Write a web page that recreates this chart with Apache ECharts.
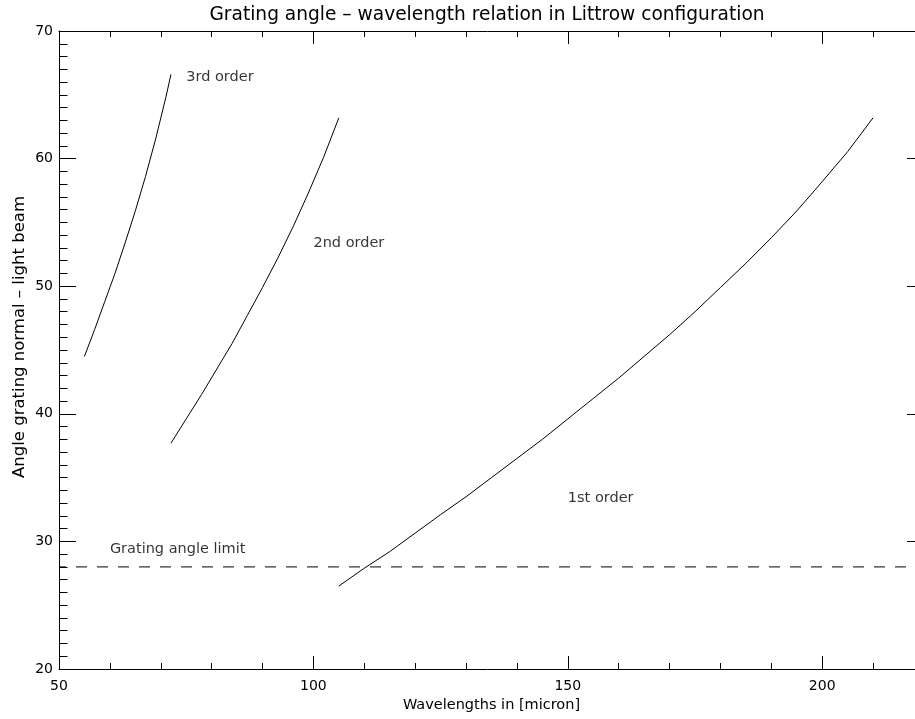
<!DOCTYPE html>
<html>
<head>
<meta charset="utf-8">
<script src="https://cdn.jsdelivr.net/npm/echarts@6/dist/echarts.min.js"></script>
<style>
  html, body { margin: 0; padding: 0; background: #fff; }
  #chart { width: 915px; height: 719px; }
</style>
</head>
<body>
<div id="chart"></div>
<script>
// Littrow grating: angle between grating normal and beam vs. wavelength, per order
const order1Wavelength = [105, 110, 115, 120, 125, 130, 135, 140, 145, 150, 155, 160, 165, 170, 175, 180, 185, 190, 195, 200, 205, 210];
const order1Angle      = [26.5, 27.9, 29.2, 30.65, 32.1, 33.5, 35.0, 36.5, 38.0, 39.6, 41.2, 42.8, 44.5, 46.2, 48.0, 49.9, 51.8, 53.8, 55.9, 58.2, 60.55, 63.2];

const order2Wavelength = [72, 75, 78, 81, 84, 87, 90, 93, 96, 99, 102, 105];
const order2Angle      = [37.7, 39.6, 41.5, 43.5, 45.5, 47.7, 49.9, 52.2, 54.65, 57.3, 60.1, 63.2];

const order3Wavelength = [55, 57, 59, 61, 63, 65, 67, 69, 71, 72];
const order3Angle      = [44.5, 46.6, 48.8, 51.0, 53.4, 55.9, 58.6, 61.55, 64.8, 66.6];

// Horizontal limit on the usable grating angle
const limitWavelength = [50, 220];
const limitAngle = 28;

// Annotations (data coordinates of each text's baseline start)
const noteTexts = ['3rd order', '2nd order', '1st order', 'Grating angle limit'];
const noteX     = [75, 100, 150, 60];
const noteY     = [66, 53, 33, 29];

const xTicks = { min: 50, max: 220, major: 50, minor: 10 };
const yTicks = { min: 20, max: 70, major: 10, minorSplit: 10 };

const titleText = 'Grating angle \u2013 wavelength relation in Littrow configuration';
const xName = 'Wavelengths in [micron]';
const yName = 'Angle grating normal \u2013 light beam';

const FONT = 'DejaVu Sans';
const INK = '#000';

const pairs = (xs, ys) => xs.map((x, i) => [x, ys[i]]);

function xAxisDef(position, interval, tickLen, withLabels, withLine) {
  return {
    type: 'value', position: position,
    min: xTicks.min, max: xTicks.max, interval: interval,
    axisLine: { show: withLine, onZero: false, lineStyle: { color: INK, width: 1 } },
    axisTick: { show: true, inside: true, length: tickLen, lineStyle: { color: INK, width: 1 } },
    axisLabel: {
      show: withLabels, margin: 10, color: INK, fontFamily: FONT, fontSize: 14,
      showMaxLabel: false
    },
    splitLine: { show: false }
  };
}

function yAxisDef(position, withLabels) {
  return {
    type: 'value', position: position,
    min: yTicks.min, max: yTicks.max, interval: yTicks.major,
    axisLine: { show: true, onZero: false, lineStyle: { color: INK, width: 1 } },
    axisTick: { show: true, inside: true, length: 17, lineStyle: { color: INK, width: 1 } },
    minorTick: { show: true, splitNumber: yTicks.minorSplit, length: 8.5, lineStyle: { color: INK, width: 1 } },
    axisLabel: { show: withLabels, margin: 6, color: INK, fontFamily: FONT, fontSize: 14 },
    splitLine: { show: false },
    minorSplitLine: { show: false }
  };
}

const chart = echarts.init(document.getElementById('chart'), null, { renderer: 'canvas' });

const bottomMajor = xAxisDef('bottom', xTicks.major, 13, true, true);
bottomMajor.name = xName;
bottomMajor.nameLocation = 'middle';
bottomMajor.nameGap = 29;
bottomMajor.nameTextStyle = { color: INK, fontFamily: FONT, fontSize: 14.5 };

const curveStyle = { color: INK, width: 1 };

chart.setOption({
  animation: false,
  backgroundColor: '#fff',
  grid: { left: 59, top: 31, width: 865, height: 638, containLabel: false, outerBoundsMode: 'none' },
  xAxis: [
    bottomMajor,
    xAxisDef('bottom', xTicks.minor, 6, false, false),
    xAxisDef('top', xTicks.major, 13, false, true),
    xAxisDef('top', xTicks.minor, 6, false, false)
  ],
  yAxis: [
    yAxisDef('left', true),
    yAxisDef('right', false)
  ],
  graphic: [
    {
      type: 'text', x: 487, y: 15,
      style: { text: titleText, fill: INK, font: '18.6px "' + FONT + '"', textAlign: 'center', textVerticalAlign: 'middle' }
    },
    {
      type: 'text', x: 20, y: 337, rotation: Math.PI / 2,
      style: { text: yName, fill: INK, font: '16.5px "' + FONT + '"', textAlign: 'center', textVerticalAlign: 'middle' }
    }
  ],
  series: [
    { type: 'line', name: '1st order', data: pairs(order1Wavelength, order1Angle), showSymbol: false, symbol: 'none', lineStyle: curveStyle, silent: true },
    { type: 'line', name: '2nd order', data: pairs(order2Wavelength, order2Angle), showSymbol: false, symbol: 'none', lineStyle: curveStyle, silent: true },
    { type: 'line', name: '3rd order', data: pairs(order3Wavelength, order3Angle), showSymbol: false, symbol: 'none', lineStyle: curveStyle, silent: true },
    {
      type: 'line', name: 'limit',
      data: limitWavelength.map(x => [x, limitAngle]),
      showSymbol: false, symbol: 'none', silent: true,
      lineStyle: { color: INK, width: 1, type: [11, 10], dashOffset: 4 }
    },
    {
      type: 'scatter', name: 'notes', symbolSize: 0, silent: true,
      data: noteTexts.map((t, i) => ({ value: [noteX[i], noteY[i]], name: t })),
      label: {
        show: true, position: [0, 0], align: 'left', verticalAlign: 'bottom',
        offset: [0, 3],
        formatter: p => p.name, color: INK, fontFamily: FONT, fontSize: 14.5
      }
    }
  ]
});
</script>
</body>
</html>
